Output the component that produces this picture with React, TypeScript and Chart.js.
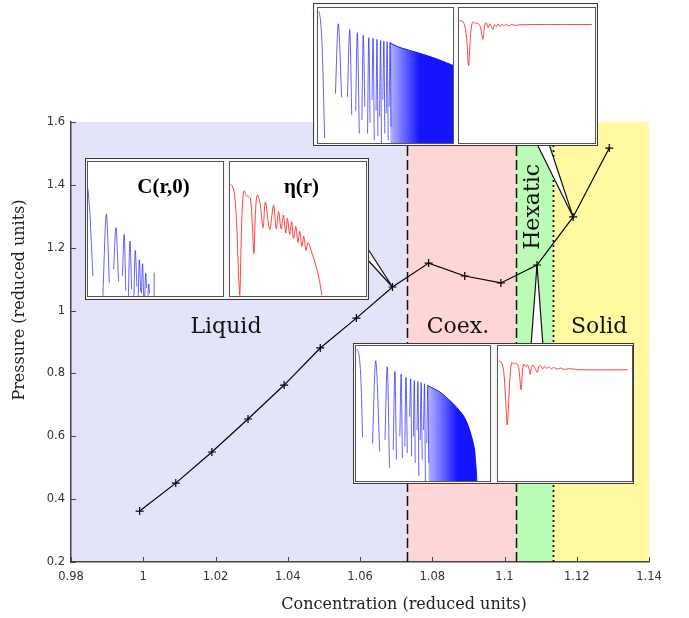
import React, { useEffect, useRef } from 'react';
import { Chart, registerables } from 'chart.js';

Chart.register(...registerables);

// ---------------- main series ----------------
const concentration = [0.999, 1.009, 1.019, 1.029, 1.039, 1.049, 1.059, 1.069, 1.079, 1.089, 1.099, 1.109, 1.119, 1.129];
const pressure = [0.362, 0.451, 0.55, 0.655, 0.763, 0.881, 0.976, 1.075, 1.151, 1.11, 1.088, 1.145, 1.298, 1.517];
const xTickValues = [0.98, 1.0, 1.02, 1.04, 1.06, 1.08, 1.1, 1.12, 1.14];
const yTickValues = [0.2, 0.4, 0.6, 0.8, 1.0, 1.2, 1.4, 1.6];
const xTitle = 'Concentration (reduced units)';
const yTitle = 'Pressure (reduced units)';

// phases
const phaseNames = ['Liquid', 'Coex.', 'Hexatic', 'Solid'];
const phaseEdges = [0.98, 1.073, 1.1032, 1.1135, 1.14];
const phaseColors = ['#e3e3fa', '#ffd6d6', '#bcfbb6', '#fff9a0'];
const phaseLabelX = [1.0229, 1.0871, 1.1079, 1.1262];
const phaseLabelY = [0.948, 0.948, 1.33, 0.948];
const phaseLabelRotated = [false, false, true, false];

// ---------------- inset series (normalised 0..100 panel units) ----------------
// liquid state (point at 1.069)
const liquidCx = [0, 1.5, 3.6, null, 11, 13.6, 15.8, null, 19, 20.7, 22.6, null, 25.5, 26.8, 28, null, 29.9, 31.1, 32.3, null, 34, 35, 36.2, null, 37.2, 38, 39, null, 39.6, 40.4, 41.2, null, 42, 42.7, 43.4, null, 44.4, 45, 45.6, null, 49, 49.05];
const liquidCy = [80, 60, 15, null, 0, 61, 10, null, 20, 51, 11, null, 15, 46, 4, null, 0, 41, 5, null, 0, 34, 7, null, 0, 27, 3, null, 2, 24, 0, null, 0, 17, 6, null, 0, 9, 2, null, 0, 17.5];
const liquidEtaX = [0.5, 2.2, 3.6, 5, 6.3, 7.2, 8.2, 9.2, 10.4, 12, 13.5, 15, 16.3, 17.6, 18.7, 20, 22, 24.3, 26, 29.2, 32, 34, 35.7, 37.6, 39.3, 41, 42.2, 43.9, 45.3, 46.7, 48.4, 49.9, 51.3, 52.8, 54.2, 55.9, 57.3, 61, 63.9, 65.8, 67.5];
const liquidEtaY = [83.4, 81, 73.7, 51.7, 15, 0.5, 40, 70, 78.5, 75, 74, 73, 55, 31.7, 62, 75.4, 70, 51, 70.2, 49.5, 67.8, 50, 63, 50, 60.5, 47, 58, 46, 55.6, 43, 51.9, 40, 48.3, 37, 44.6, 34, 39.8, 29.8, 20, 11.5, 0.5];

// solid state (point at 1.119)
const solidCx = [0.7, 1.9, 3.2, 4.9, null, 12.9, 15, 17.5, null, 21.8, 23.5, 25, null, 27.9, 29.1, 30.6, null, 32.5, 33.5, 34.7, null, 36.7, 37.6, 38.6, null, 40, 40.8, 41.7, null, 43, 43.7, 44.4, null, 45.6, 46.4, 47, null, 48, 48.8, 49.5, null, 50.5, 51.2, 52, null, 52.7, 53.4, 54.1];
const solidCy = [97.6, 90, 68, 3.7, null, 36.6, 88.3, 34, null, 34, 84, 20.7, null, 24, 81.7, 7, null, 17, 79.8, 27, null, 7, 78, 15, null, 32, 77.6, 2, null, 24, 76.8, 5, null, 19.5, 76, 0, null, 32, 75.6, 7, null, 22, 75, 2, null, 27, 74.6, 12];
const solidDenseX = [53.5, 60, 70, 80, 90, 100];
const solidDenseY = [74, 71, 68, 65, 61.5, 57.5];
const solidEtaX = [0.5, 2.7, 4.3, 5.8, 7, 8.2, 9.2, 10.4, 12.1, 13.5, 15.5, 17.6, 18.6, 19.6, 20.8, 21.5, 22.7, 23.7, 24.9, 26.1, 27.5, 28.7, 30.2, 31.6, 33.1, 34.5, 36.5, 38.9, 41.3, 44.9, 49.8, 54.6, 97.6];
const solidEtaY = [90.7, 90.2, 86.6, 75.6, 57.3, 75.6, 86.6, 89.8, 88.3, 89, 86.6, 76.8, 85.4, 89, 87.3, 85.4, 88.3, 86.6, 84.1, 87.8, 86.1, 88.3, 86.3, 88, 86.6, 87.8, 86.8, 87.8, 87.1, 87.6, 87.6, 87.8, 87.8];

// hexatic state (point at 1.109)
const hexaticCx = [0.7, 2.5, 3.7, 4.9, null, 12.3, 14.7, 17.7, null, 21.6, 23.3, 25, null, 27.8, 29, 30.2, null, 32.7, 33.7, 34.6, null, 36.4, 37.3, 38.3, null, 40, 40.8, 41.5, null, 42.8, 43.5, 44.2, null, 45.5, 46.2, 46.9, null, 47.9, 48.6, 49.4, null, 50.4, 51.1, 51.8, null, 52.8, 53.6, 54.3];
const hexaticCy = [97.6, 91.5, 74.4, 32.4, null, 28, 89, 22, null, 30.5, 84.6, 9.8, null, 23, 81.2, 15.9, null, 33, 79.3, 17, null, 25.6, 76.8, 20.7, null, 47.6, 75.6, 18.3, null, 33, 74.4, 13.4, null, 37.8, 73.7, 3.7, null, 30.5, 72.9, 15.9, null, 37.8, 72, 0, null, 28, 71.2, 13.4];
const hexaticDenseX = [54, 62.7, 68, 72.5, 76, 79.9, 82.5, 84.8, 86.8, 88.5, 89.7, 90.2];
const hexaticDenseY = [70.5, 65.9, 61.5, 57.3, 53.5, 48.8, 44, 37.8, 31, 23.2, 8.5, 0];
const hexaticEtaX = [0.5, 2.5, 4.2, 5.6, 6.9, 8.1, 9.3, 10.3, 11.8, 13.5, 15.4, 17.2, 18.4, 19.4, 20.8, 22.1, 23.5, 24, 25, 26, 27.5, 29.4, 30.4, 31.9, 33.3, 34.8, 36.3, 37.7, 39.7, 41.7, 44.1, 46.6, 49.5, 53.9, 61.3, 96.8];
const hexaticEtaY = [89, 87.8, 81.7, 62.2, 41.5, 62.2, 81.7, 87.8, 86.6, 87.3, 84.1, 67.6, 82.9, 86.6, 84.6, 86.1, 81.7, 78.8, 84.1, 85.9, 83.7, 80.5, 84.6, 85.4, 82.9, 84.9, 83.4, 84.6, 83.2, 84.1, 82.9, 83.7, 82.7, 83.2, 82.4, 82.4];

// ---------------- layout (pixels) ----------------
const INSETS = [
  {
    box: { left: 85, top: 158, width: 284, height: 142 },
    panels: [
      { left: 87, top: 161, width: 137, height: 136 },
      { left: 229, top: 161, width: 138, height: 136 },
    ],
    anchor: 7,
    base: [[366, 246], [366, 258]],
    labels: [{ text: 'C(r,0)', x: 75.5, y: 26 }, { text: 'η(r)', x: 71.5, y: 26 }],
  },
  {
    box: { left: 313, top: 3, width: 285, height: 143 },
    panels: [
      { left: 317, top: 7, width: 137, height: 137 },
      { left: 458, top: 7, width: 138, height: 137 },
    ],
    anchor: 12,
    base: [[537, 144], [549, 144]],
    labels: [null, null],
  },
  {
    box: { left: 353, top: 343, width: 281, height: 141 },
    panels: [
      { left: 355, top: 345, width: 136, height: 137 },
      { left: 497, top: 345, width: 136, height: 137 },
    ],
    anchor: 11,
    base: [[531, 346], [543, 346]],
    labels: [null, null],
  },
];

const toPoints = (xs: (number | null)[], ys: (number | null)[]) =>
  xs.map((x, i) => ({ x: x as any, y: ys[i] as any }));

const BLUE_LINE = 'rgba(0,0,255,0.62)';
const RED_LINE = 'rgba(255,20,20,0.8)';

function archSet(xs: any[], ys: any[]) {
  return {
    data: toPoints(xs, ys),
    borderColor: BLUE_LINE,
    borderWidth: 1,
    pointRadius: 0,
    cubicInterpolationMode: 'monotone',
    spanGaps: false,
    fill: false,
    clip: 0,
  };
}
function denseSet(xs: number[], ys: number[]) {
  return {
    data: toPoints(xs, ys),
    borderColor: 'rgba(0,0,255,0.9)',
    borderWidth: 1,
    pointRadius: 0,
    tension: 0.2,
    fill: 'start',
    clip: 0,
    backgroundColor: (c: any) => {
      const { chart } = c;
      const area = chart.chartArea;
      if (!area) return 'rgba(0,0,255,0.8)';
      const xs0 = chart.scales.x.getPixelForValue(xs[0]);
      const xs1 = chart.scales.x.getPixelForValue(xs[0] + 22);
      const g = chart.ctx.createLinearGradient(xs0, 0, xs1, 0);
      g.addColorStop(0, 'rgba(0,0,255,0.3)');
      g.addColorStop(1, 'rgba(0,0,255,0.92)');
      return g;
    },
  };
}
function etaSet(xs: number[], ys: number[]) {
  return {
    data: toPoints(xs, ys),
    borderColor: RED_LINE,
    borderWidth: 1,
    pointRadius: 0,
    tension: 0.3,
    fill: false,
    clip: 0,
  };
}

const PANEL_DATA = [
  [[archSet(liquidCx, liquidCy)], [etaSet(liquidEtaX, liquidEtaY)]],
  [[denseSet(solidDenseX, solidDenseY), archSet(solidCx, solidCy)], [etaSet(solidEtaX, solidEtaY)]],
  [[denseSet(hexaticDenseX, hexaticDenseY), archSet(hexaticCx, hexaticCy)], [etaSet(hexaticEtaX, hexaticEtaY)]],
];

const fmt = (v: number) => String(Number(Number(v).toFixed(2)));

export default function App() {
  const mainRef = useRef<HTMLCanvasElement>(null);
  const panelRefs = useRef<(HTMLCanvasElement | null)[]>([]);

  useEffect(() => {
    const charts: Chart[] = [];
    const phasePlugin = {
      id: 'phases',
      beforeDraw(chart: any) {
        const { ctx, chartArea: a, scales } = chart;
        const x = scales.x;
        ctx.save();
        for (let i = 0; i < phaseNames.length; i++) {
          const l = x.getPixelForValue(phaseEdges[i]);
          const r = x.getPixelForValue(phaseEdges[i + 1]);
          ctx.fillStyle = phaseColors[i];
          ctx.fillRect(l, a.top, r - l, a.bottom - a.top);
        }
        ctx.restore();
      },
      beforeDatasetsDraw(chart: any) {
        const { ctx, chartArea: a, scales } = chart;
        const x = scales.x;
        const y = scales.y;
        ctx.save();
        // boundaries
        const dashes = [[10, 4], [10, 4], [2, 3]];
        for (let i = 1; i < phaseEdges.length - 1; i++) {
          const px = Math.round(x.getPixelForValue(phaseEdges[i])) + 0.5;
          ctx.setLineDash(dashes[i - 1]);
          ctx.strokeStyle = '#111';
          ctx.lineWidth = i === 3 ? 1.8 : 1.5;
          ctx.beginPath();
          ctx.moveTo(px, a.bottom);
          ctx.lineTo(px, a.top);
          ctx.stroke();
        }
        ctx.setLineDash([]);
        // phase labels
        ctx.fillStyle = '#111';
        ctx.font = '22px "DejaVu Serif"';
        ctx.textAlign = 'center';
        ctx.textBaseline = 'middle';
        for (let i = 0; i < phaseNames.length; i++) {
          const px = x.getPixelForValue(phaseLabelX[i]);
          const py = y.getPixelForValue(phaseLabelY[i]);
          ctx.save();
          ctx.translate(px, py);
          if (phaseLabelRotated[i]) ctx.rotate(-Math.PI / 2);
          ctx.fillText(phaseNames[i], 0, 0);
          ctx.restore();
        }
        // callouts
        for (const ins of INSETS) {
          const ax = x.getPixelForValue(concentration[ins.anchor]);
          const ay = y.getPixelForValue(pressure[ins.anchor]);
          const [b1, b2] = ins.base;
          ctx.beginPath();
          ctx.moveTo(b1[0], b1[1]);
          ctx.lineTo(ax, ay);
          ctx.lineTo(b2[0], b2[1]);
          ctx.closePath();
          ctx.fillStyle = '#ffffff';
          ctx.fill();
          ctx.beginPath();
          ctx.moveTo(b1[0], b1[1]);
          ctx.lineTo(ax, ay);
          ctx.lineTo(b2[0], b2[1]);
          ctx.strokeStyle = '#111';
          ctx.lineWidth = 1.2;
          ctx.stroke();
        }
        ctx.restore();
      },
      afterDraw(chart: any) {
        const { ctx, chartArea: a, scales } = chart;
        const x = scales.x;
        const y = scales.y;
        ctx.save();
        ctx.strokeStyle = '#444';
        ctx.lineWidth = 1;
        ctx.beginPath();
        for (const v of xTickValues) {
          const px = Math.round(x.getPixelForValue(v)) + 0.5;
          ctx.moveTo(px, a.bottom);
          ctx.lineTo(px, a.bottom - 5);
        }
        for (const v of yTickValues) {
          const py = Math.round(y.getPixelForValue(v)) + 0.5;
          ctx.moveTo(a.left, py);
          ctx.lineTo(a.left + 5, py);
        }
        ctx.stroke();
        ctx.fillStyle = '#222';
        ctx.font = '16px "DejaVu Serif"';
        ctx.textAlign = 'center';
        ctx.textBaseline = 'middle';
        ctx.fillText(xTitle, 404, 605);
        ctx.translate(20, 300);
        ctx.rotate(-Math.PI / 2);
        ctx.fillText(yTitle, 0, 0);
        ctx.restore();
      },
    };

    if (mainRef.current) {
      charts.push(
        new Chart(mainRef.current, {
          type: 'line',
          data: {
            datasets: [
              {
                data: toPoints(concentration, pressure),
                borderColor: '#000',
                borderWidth: 1.2,
                pointStyle: 'cross',
                pointRadius: 4,
                pointBorderWidth: 1.2,
                pointBorderColor: '#000',
                tension: 0,
                fill: false,
              } as any,
            ],
          },
          options: {
            animation: false,
            responsive: true,
            maintainAspectRatio: false,
            events: [],
            layout: { padding: { top: 122, right: 40, left: 0, bottom: 0 } },
            plugins: { legend: { display: false }, tooltip: { enabled: false } },
            scales: {
              x: {
                type: 'linear',
                min: 0.98,
                max: 1.14,
                grid: { display: false, drawTicks: false },
                border: { display: true, color: '#444', width: 1.5 },
                afterBuildTicks: (s: any) => {
                  s.ticks = xTickValues.map((v) => ({ value: v }));
                },
                afterFit: (s: any) => {
                  s.height = 56;
                },
                ticks: {
                  autoSkip: false,
                  maxRotation: 0,
                  padding: 8,
                  color: '#333',
                  font: { family: '"DejaVu Sans"', size: 11.5 },
                  callback: (v: any) => fmt(v),
                },
              },
              y: {
                type: 'linear',
                min: 0.2,
                max: 1.6,
                grid: { display: false, drawTicks: false },
                border: { display: true, color: '#444', width: 1.5 },
                afterBuildTicks: (s: any) => {
                  s.ticks = yTickValues.map((v) => ({ value: v }));
                },
                afterFit: (s: any) => {
                  s.width = 71;
                },
                ticks: {
                  autoSkip: false,
                  padding: 6,
                  color: '#333',
                  font: { family: '"DejaVu Sans"', size: 11.5 },
                  callback: (v: any) => fmt(v),
                },
              },
            },
          } as any,
          plugins: [phasePlugin],
        })
      );
    }

    INSETS.forEach((ins, i) => {
      ins.panels.forEach((_, j) => {
        const cv = panelRefs.current[i * 2 + j];
        if (!cv) return;
        const label = ins.labels[j];
        const labelPlugin = {
          id: 'panelLabel',
          afterDatasetsDraw(chart: any) {
            if (!label) return;
            const { ctx } = chart;
            ctx.save();
            ctx.font = 'bold 21px "Liberation Serif"';
            ctx.fillStyle = '#000';
            ctx.textAlign = 'center';
            ctx.textBaseline = 'middle';
            ctx.fillText(label.text, label.x, label.y);
            ctx.restore();
          },
        };
        charts.push(
          new Chart(cv, {
            type: 'line',
            data: { datasets: PANEL_DATA[i][j] as any },
            options: {
              animation: false,
              responsive: true,
              maintainAspectRatio: false,
              events: [],
              layout: { padding: 0 },
              plugins: { legend: { display: false }, tooltip: { enabled: false } },
              scales: {
                x: { type: 'linear', min: 0, max: 100, display: false },
                y: { type: 'linear', min: 0, max: 100, display: false },
              },
            } as any,
            plugins: [labelPlugin],
          })
        );
      });
    });

    return () => {
      charts.forEach((c) => c.destroy());
    };
  }, []);

  return (
    <div style={{ position: 'absolute', left: 0, top: 0, width: 689, height: 618, background: '#fff' }}>
      <div style={{ position: 'absolute', left: 0, top: 0, width: 689, height: 618 }}>
        <canvas ref={mainRef} />
      </div>
      {INSETS.map((ins, i) => (
        <React.Fragment key={i}>
          <div
            style={{
              position: 'absolute',
              left: ins.box.left,
              top: ins.box.top,
              width: ins.box.width,
              height: ins.box.height,
              boxSizing: 'border-box',
              border: '1.5px solid #3a3a3a',
              background: '#f7f7f7',
            }}
          />
          {ins.panels.map((p, j) => (
            <div
              key={j}
              style={{
                position: 'absolute',
                left: p.left,
                top: p.top,
                width: p.width,
                height: p.height,
                boxSizing: 'border-box',
                border: '1.5px solid #555',
                background: '#fff',
              }}
            >
              <canvas ref={(el) => { panelRefs.current[i * 2 + j] = el; }} />
            </div>
          ))}
        </React.Fragment>
      ))}
    </div>
  );
}
